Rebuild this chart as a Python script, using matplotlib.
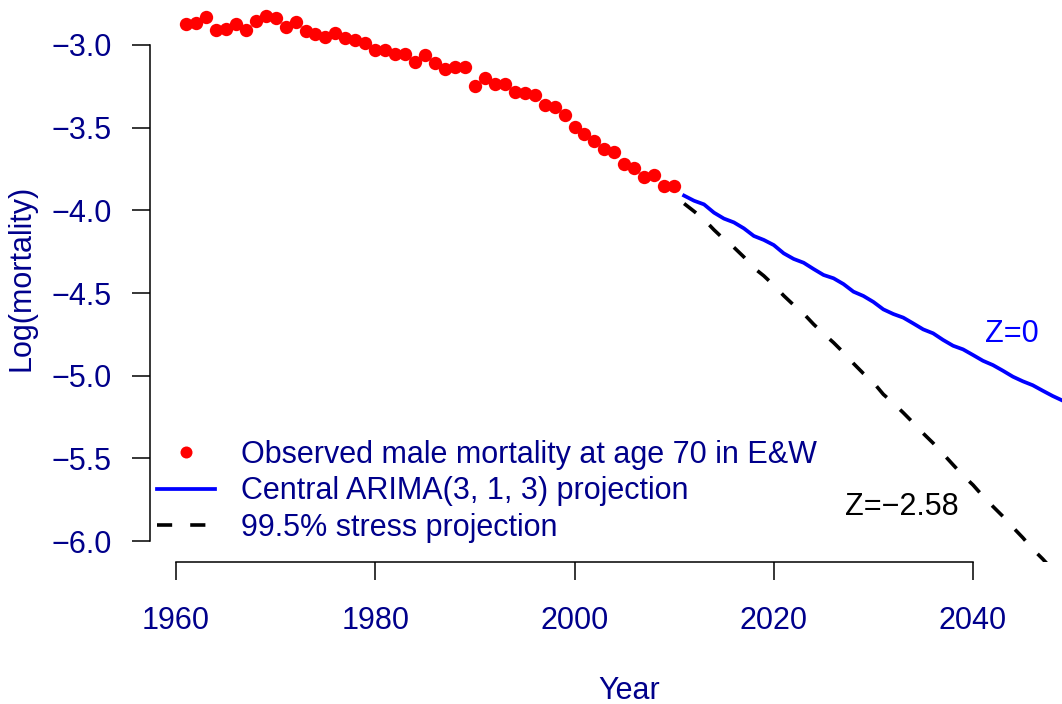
import matplotlib
matplotlib.use('Agg')
import matplotlib.pyplot as plt

plt.rcParams['font.family'] = ['Liberation Sans', 'DejaVu Sans']

# observed log mortality, males aged 70, E&W
obs_years = list(range(1961, 2011))
obs_logm = [-2.873, -2.865, -2.832, -2.909, -2.905, -2.871, -2.909, -2.853, -2.825, -2.837,
            -2.893, -2.859, -2.915, -2.935, -2.952, -2.926, -2.960, -2.972, -2.986, -3.032,
            -3.028, -3.056, -3.056, -3.103, -3.063, -3.107, -3.143, -3.131, -3.135, -3.248,
            -3.201, -3.238, -3.238, -3.284, -3.292, -3.304, -3.365, -3.377, -3.425, -3.498,
            -3.538, -3.581, -3.629, -3.645, -3.718, -3.744, -3.800, -3.784, -3.853, -3.853]

# projections
proj_years = list(range(2011, 2051))
central = [-3.911, -3.942, -3.964, -4.014, -4.050, -4.073, -4.109, -4.155, -4.179, -4.210,
           -4.260, -4.294, -4.317, -4.355, -4.391, -4.411, -4.446, -4.492, -4.518, -4.554,
           -4.599, -4.627, -4.649, -4.684, -4.720, -4.744, -4.784, -4.819, -4.841, -4.875,
           -4.910, -4.936, -4.970, -5.006, -5.034, -5.058, -5.091, -5.123, -5.151, -5.180]
stress = [-3.959, -4.006, -4.055, -4.118, -4.175, -4.224, -4.282, -4.348, -4.396, -4.453,
          -4.516, -4.573, -4.625, -4.689, -4.746, -4.800, -4.860, -4.926, -4.987, -5.041,
          -5.113, -5.166, -5.224, -5.285, -5.349, -5.408, -5.473, -5.539, -5.604, -5.661,
          -5.729, -5.791, -5.851, -5.917, -5.980, -6.049, -6.109, -6.175, -6.240, -6.310]

xticks = [1960, 1980, 2000, 2020, 2040]
yticks = [-3.0, -3.5, -4.0, -4.5, -5.0, -5.5, -6.0]
ytick_labels = ['\u22123.0', '\u22123.5', '\u22124.0', '\u22124.5', '\u22125.0', '\u22125.5', '\u22126.0']

labels = ['Observed male mortality at age 70 in E&W',
          'Central ARIMA(3, 1, 3) projection',
          '99.5% stress projection']

W, H = 1062, 704
txtcol = '#00008B'
fs = 22


def main():
    fig = plt.figure(figsize=(W / 100, H / 100), dpi=100)
    # plot region in pixels: left 150, right 1108 (beyond the picture), bottom 562, top -7
    ax = fig.add_axes([150 / W, (H - 562) / H, (1108 - 150) / W, (562 + 7) / H])

    ax.plot(obs_years, obs_logm, 'o', color='red', markersize=9.6, markeredgewidth=0,
            label=labels[0])
    ax.plot(proj_years, central, '-', color='blue', linewidth=2.7, label=labels[1])
    ax.plot(proj_years, stress, color='black', linewidth=2.6, linestyle=(0, (4.2, 5.0)),
            label=labels[2])

    ax.set_xlim(1957.39, 2053.55)
    ax.set_ylim(-6.127, -2.6855)

    for s in ['top', 'right']:
        ax.spines[s].set_visible(False)
    ax.spines['left'].set_bounds(-6, -3)
    ax.spines['bottom'].set_bounds(1960, 2040)
    for s in ['left', 'bottom']:
        ax.spines[s].set_linewidth(1.1)

    ax.set_xticks(xticks)
    ax.set_xticklabels([str(t) for t in xticks])
    ax.set_yticks(yticks)
    ax.set_yticklabels(ytick_labels)
    ax.tick_params(axis='both', length=13, width=1.1, labelsize=fs, labelcolor=txtcol)
    ax.tick_params(axis='x', pad=18.5)
    ax.tick_params(axis='y', pad=14.5)

    ax.set_xlabel('Year', fontsize=fs, color=txtcol, labelpad=29)
    ax.set_ylabel('Log(mortality)', fontsize=fs, color=txtcol, labelpad=11)

    ax.text(2043.9, -4.748, 'Z=0', color='blue', fontsize=fs, ha='center', va='center')
    ax.text(2032.9, -5.794, 'Z=\u22122.58', color='black', fontsize=fs, ha='center', va='center')

    ax.legend(loc='upper left', bbox_to_anchor=(157 / W, 1 - 440 / H),
              bbox_transform=fig.transFigure, frameon=False, fontsize=fs,
              labelcolor=txtcol, handlelength=1.9, handletextpad=0.85,
              labelspacing=0.21, borderpad=0, borderaxespad=0, markerscale=0.9)

    fig.savefig('out.png', dpi=100)


if __name__ == '__main__':
    main()
